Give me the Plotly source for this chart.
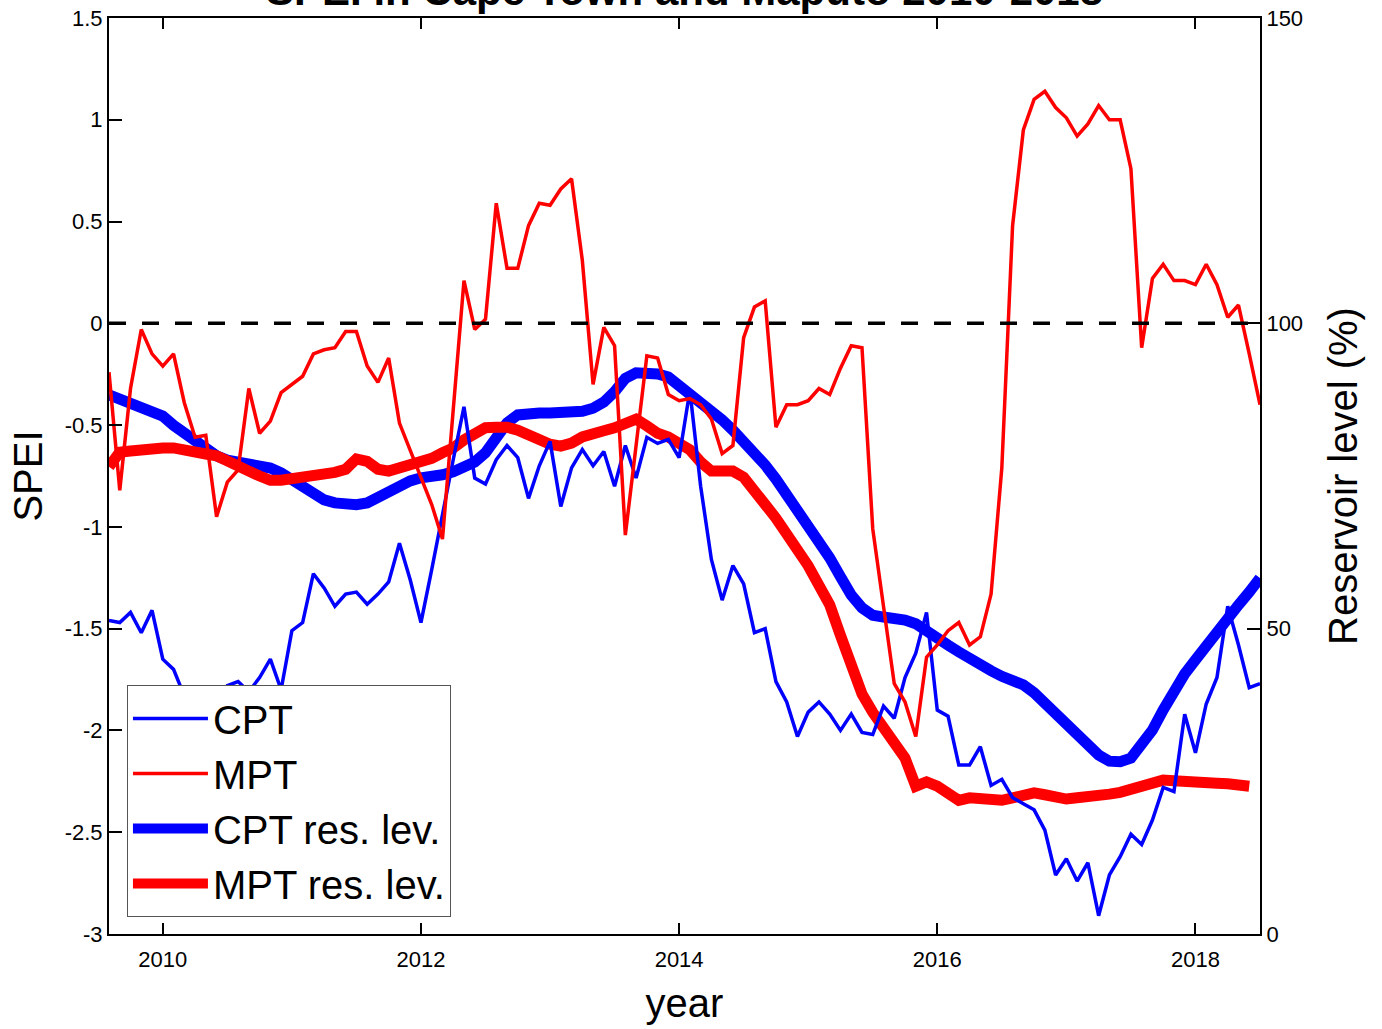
import plotly.graph_objects as go

# monthly time axis: Aug 2009 .. Jul 2018 (decimal years)
start_year = 2009 + 7 / 12
n_months = 108
months = [start_year + i / 12 for i in range(n_months)]

cpt_spei = [-1.46, -1.47, -1.42, -1.52, -1.41, -1.65, -1.70, -1.83, -1.92, -2.00,
            -1.88, -1.78, -1.76, -1.81, -1.74, -1.65, -1.80, -1.51, -1.47, -1.23,
            -1.30, -1.39, -1.33, -1.32, -1.38, -1.33, -1.27, -1.08, -1.26, -1.47,
            -1.21, -0.93, -0.67, -0.41, -0.76, -0.79, -0.67, -0.60, -0.66, -0.86,
            -0.70, -0.58, -0.90, -0.71, -0.62, -0.70, -0.63, -0.80, -0.60, -0.76,
            -0.56, -0.59, -0.57, -0.66, -0.33, -0.80, -1.16, -1.36, -1.19, -1.28,
            -1.52, -1.50, -1.76, -1.86, -2.03, -1.91, -1.86, -1.92, -2.00, -1.92,
            -2.01, -2.02, -1.88, -1.94, -1.74, -1.62, -1.42, -1.90, -1.93, -2.17,
            -2.17, -2.08, -2.27, -2.24, -2.33, -2.36, -2.39, -2.49, -2.71, -2.63,
            -2.74, -2.65, -2.91, -2.71, -2.62, -2.51, -2.56, -2.44, -2.28, -2.30,
            -1.92, -2.11, -1.87, -1.74, -1.39, -1.58, -1.79, -1.77]

mpt_spei = [-0.24, -0.82, -0.32, -0.03, -0.15, -0.21, -0.15, -0.39, -0.56, -0.55,
            -0.95, -0.78, -0.72, -0.32, -0.54, -0.48, -0.34, -0.30, -0.26, -0.15,
            -0.13, -0.12, -0.04, -0.04, -0.21, -0.29, -0.17, -0.49, -0.62, -0.76,
            -0.89, -1.06, -0.42, 0.21, -0.03, 0.02, 0.59, 0.27, 0.27, 0.48,
            0.59, 0.58, 0.66, 0.71, 0.31, -0.30, -0.02, -0.11, -1.04, -0.60,
            -0.16, -0.17, -0.35, -0.38, -0.37, -0.40, -0.47, -0.64, -0.60, -0.07,
            0.08, 0.11, -0.51, -0.40, -0.40, -0.38, -0.32, -0.35, -0.22, -0.11,
            -0.12, -1.01, -1.39, -1.77, -1.86, -2.03, -1.64, -1.58, -1.51, -1.47,
            -1.58, -1.54, -1.33, -0.71, 0.48, 0.95, 1.10, 1.14, 1.06, 1.01,
            0.92, 0.98, 1.07, 1.00, 1.00, 0.76, -0.12, 0.22, 0.29, 0.21,
            0.21, 0.19, 0.29, 0.19, 0.03, 0.09, -0.15, -0.40]

cpt_res = [88.3, 87.6, 87.1, 86.4, 85.8, 84.8, 83.3, 82.0, 80.6, 79.3,
           78.3, 77.6, 77.3, 77.1, 76.8, 76.3, 75.5, 74.4, 73.1, 71.9,
           71.1, 70.6, 70.3, 70.3, 70.6, 71.6, 72.7, 73.6, 74.2, 74.7,
           74.8, 75.2, 75.7, 76.5, 77.3, 78.8, 80.9, 83.7, 85.0, 85.3,
           85.3, 85.3, 85.3, 85.5, 85.6, 86.1, 87.1, 88.8, 91.0, 91.9,
           92.0, 91.7, 91.2, 89.9, 88.6, 87.1, 85.8, 84.2, 82.5, 80.7,
           78.9, 76.8, 74.5, 72.0, 69.8, 67.3, 64.5, 61.6, 58.5, 55.5,
           53.4, 52.2, 51.9, 51.7, 51.4, 50.8, 49.8, 48.6, 47.3, 46.2,
           45.0, 44.0, 43.1, 42.2, 41.6, 40.8, 39.5, 37.7, 35.9, 34.1,
           32.3, 30.6, 29.3, 28.3, 28.2, 28.8, 31.0, 33.4, 36.7, 40.0,
           42.6, 44.9, 47.3, 49.5, 51.7, 53.9, 56.0, 58.3]

mpt_res = [76.5, 78.9, 79.1, 79.4, 79.6, 79.6, 79.6, 79.4, 79.1, 78.6,
           78.3, 77.6, 76.8, 75.8, 75.0, 74.3, 74.3, 74.5, 74.8, 75.0,
           75.3, 75.6, 76.1, 77.8, 77.4, 76.1, 75.8, 76.3, 76.5, 77.3,
           77.9, 78.8, 79.6, 80.9, 82.0, 82.9, 83.0, 83.0, 82.5, 81.7,
           80.9, 80.2, 79.9, 80.4, 81.4, 81.7, 82.4, 82.9, 83.5, 84.3,
           83.2, 82.0, 81.4, 80.4, 79.3, 77.3, 75.8, 75.8, 75.8, 74.8,
           72.7, 70.6, 68.1, 65.5, 63.0, 60.3, 57.1, 53.9, 48.9, 44.0,
           39.3, 36.3, 34.0, 31.4, 28.8, 24.2, 24.9, 24.2, 23.2, 21.9,
           22.3, 22.1, 21.9, 21.9, 22.3, 22.9, 23.1, 22.8, 22.4, 22.1,
           22.3, 22.4, 22.6, 22.9, 23.2, 23.7, 24.2, 24.9, 25.2, 25.1,
           25.1, 24.9, 24.9, 24.7, 24.6, 24.4, 24.2]

x_ticks = [2010, 2012, 2014, 2016, 2018]
spei_ticks = [1.5, 1, 0.5, 0, -0.5, -1, -1.5, -2, -2.5, -3]
spei_tick_labels = ["1.5", "1", "0.5", "0", "-0.5", "-1", "-1.5", "-2", "-2.5", "-3"]
res_ticks = [0, 50, 100, 150]

FONT = "Liberation Sans, Arial, Helvetica, sans-serif"
BLUE = "#0000ff"
RED = "#ff0000"

fig = go.Figure()

fig.add_trace(go.Scatter(x=months, y=cpt_res, mode="lines", name="CPT res. lev.",
                         line=dict(color=BLUE, width=11), yaxis="y", legendrank=3))
fig.add_trace(go.Scatter(x=months[:len(mpt_res)], y=mpt_res, mode="lines", name="MPT res. lev.",
                         line=dict(color=RED, width=11), yaxis="y", legendrank=4))
fig.add_trace(go.Scatter(x=months, y=cpt_spei, mode="lines", name="CPT",
                         line=dict(color=BLUE, width=3.5), yaxis="y2", legendrank=1))
fig.add_trace(go.Scatter(x=months, y=mpt_spei, mode="lines", name="MPT",
                         line=dict(color=RED, width=3.5), yaxis="y2", legendrank=2))

# zero reference line
fig.add_shape(type="line", xref="paper", x0=0, x1=1, yref="y2", y0=0, y1=0,
              line=dict(color="black", width=3.5, dash="17px,16px"))

axis_common = dict(showgrid=False, zeroline=False, showline=True, linecolor="black",
                   linewidth=2, ticks="inside", tickcolor="black", tickwidth=2,
                   automargin=False,
                   tickfont=dict(size=22, color="black", family=FONT))

fig.update_layout(
    template="none",
    width=1382, height=1029,
    margin=dict(l=109, r=122, t=18, b=95, autoexpand=False),
    paper_bgcolor="white", plot_bgcolor="white",
    font=dict(family=FONT, color="black"),
    showlegend=True,
    xaxis=dict(range=[months[0], months[-1]], tickvals=x_ticks, ticktext=[str(v) for v in x_ticks],
               ticklen=11, mirror="ticks", ticklabelstandoff=5,
               title=dict(text="year", font=dict(size=40, family=FONT), standoff=18),
               **axis_common),
    yaxis=dict(range=[0, 150], tickvals=res_ticks, ticktext=[str(v) for v in res_ticks],
               side="right", ticklen=13,
               title=dict(text="Reservoir level (%)", font=dict(size=40, family=FONT), standoff=27),
               **axis_common),
    yaxis2=dict(range=[-3, 1.5], tickvals=spei_ticks, ticktext=spei_tick_labels,
                side="left", overlaying="y", anchor="x", ticklen=13,
                title=dict(text="SPEI", font=dict(size=40, family=FONT), standoff=10),
                **axis_common),
    legend=dict(x=0.0156, y=0.0186, xanchor="left", yanchor="bottom",
                bgcolor="white", bordercolor="#555555", borderwidth=1,
                font=dict(size=40, family=FONT, color="black"), itemwidth=75,
                tracegroupgap=0),
)

fig.add_annotation(text="<b>SPEI in Cape Town and Maputo 2010-2018</b>",
                   xref="paper", yref="paper", x=0.5, y=1.0022,
                   xanchor="center", yanchor="bottom", showarrow=False,
                   font=dict(size=42, family=FONT, color="black"))

fig.write_html("out.html", config={"displayModeBar": False},
               post_script="document.body.style.margin='0px';")
